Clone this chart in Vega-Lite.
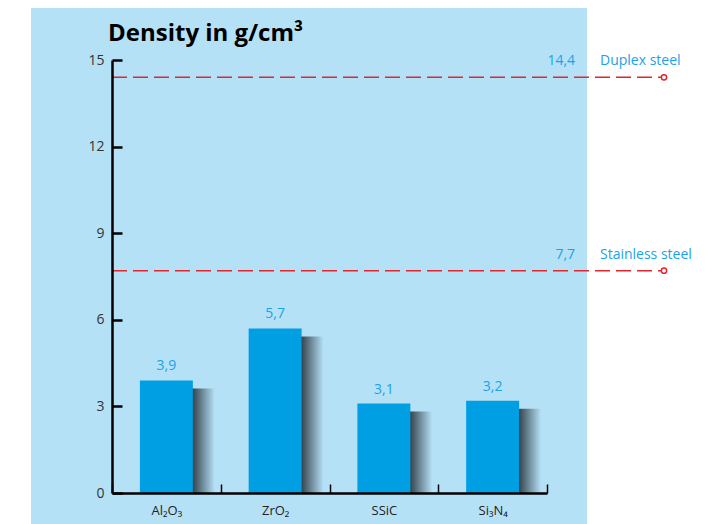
{
  "$schema": "https://vega.github.io/schema/vega-lite/v6.json",
  "width": 552,
  "height": 433,
  "autosize": {"type": "none"},
  "padding": {"left": 112, "top": 60, "right": 52, "bottom": 31},
  "background": "white",
  "title": {
    "text": "Density in g/cm³",
    "anchor": "start",
    "frame": "group",
    "font": "Open Sans",
    "fontSize": 24,
    "fontWeight": "bold",
    "color": "#000000",
    "baseline": "alphabetic",
    "dx": -4,
    "offset": -57
  },
  "datasets": {
    "materials": [
      {"material": "Al₂O₃", "density": 3.9},
      {"material": "ZrO₂", "density": 5.7},
      {"material": "SSiC", "density": 3.1},
      {"material": "Si₃N₄", "density": 3.2}
    ],
    "steels": [
      {"steel": "Duplex steel", "density": 14.4},
      {"steel": "Stainless steel", "density": 7.7}
    ]
  },
  "resolve": {"scale": {"x": "independent"}},
  "layer": [
    {
      "data": {"values": [{"panel": "background"}]},
      "mark": {"type": "rect", "color": "#b5e1f7", "clip": false},
      "encoding": {
        "x": {"datum": -0.1467, "type": "quantitative", "scale": {"domain": [0, 1]}, "axis": null},
        "x2": {"datum": 0.8605},
        "y": {"datum": 16.8, "type": "quantitative", "scale": {"domain": [0, 15], "nice": false}, "title": null},
        "y2": {"datum": -1.3}
      }
    },
    {
      "data": {"name": "materials"},
      "encoding": {
        "x": {
          "field": "material",
          "type": "nominal",
          "sort": null,
          "scale": {"range": [0, 435], "paddingInner": 0, "paddingOuter": 0},
          "axis": {
            "title": null,
            "labelAngle": 0,
            "tickBand": "extent",
            "tickSize": -9,
            "tickWidth": 1.5,
            "tickColor": "#000000",
            "domainColor": "#000000",
            "domainWidth": 2.5,
            "labelFont": "Open Sans",
            "labelFontSize": 13,
            "labelColor": "#222222",
            "labelPadding": 20,
            "zindex": 2
          }
        },
        "y": {
          "field": "density",
          "type": "quantitative",
          "scale": {"domain": [0, 15], "nice": false},
          "title": null,
          "axis": {
            "values": [0, 3, 6, 9, 12, 15],
            "grid": false,
            "tickSize": -10,
            "tickWidth": 2.5,
            "tickColor": "#000000",
            "domainColor": "#000000",
            "domainWidth": 2.5,
            "labelFont": "Open Sans",
            "labelFontSize": 14,
            "labelColor": "#333333",
            "labelPadding": 18,
            "zindex": 2
          }
        }
      },
      "layer": [
        {
          "mark": {
            "type": "bar",
            "clip": true,
            "width": {"band": 0.487},
            "xOffset": 22,
            "yOffset": 8,
            "color": {
              "gradient": "linear",
              "x1": 0, "x2": 1, "y1": 0, "y2": 0,
              "stops": [
                {"offset": 0, "color": "#2f3d47"},
                {"offset": 0.58, "color": "#34434d"},
                {"offset": 1, "color": "#b5e1f7"}
              ]
            }
          }
        },
        {"mark": {"type": "bar", "width": {"band": 0.487}, "color": "#009fe3"}},
        {
          "mark": {"type": "text", "baseline": "bottom", "dy": -7, "font": "Open Sans", "fontSize": 14, "color": "#1ba3e6"},
          "encoding": {"text": {"field": "density", "type": "quantitative", "format": ".1f"}}
        }
      ]
    },
    {
      "data": {"name": "steels"},
      "encoding": {
        "y": {"field": "density", "type": "quantitative", "scale": {"domain": [0, 15], "nice": false}, "title": null}
      },
      "layer": [
        {
          "mark": {"type": "rule", "color": "#e0262f", "strokeWidth": 1.5, "strokeDash": [15, 6], "clip": false},
          "encoding": {
            "x": {"datum": 0, "type": "quantitative", "scale": {"domain": [0, 1]}, "axis": null},
            "x2": {"datum": 1}
          }
        },
        {
          "mark": {"type": "point", "shape": "circle", "filled": true, "fill": "white", "stroke": "#e0262f", "strokeWidth": 1.5, "size": 28, "opacity": 1, "clip": false},
          "encoding": {
            "x": {"datum": 1, "type": "quantitative", "scale": {"domain": [0, 1]}, "axis": null}
          }
        },
        {
          "mark": {"type": "text", "align": "right", "baseline": "middle", "dy": -16, "font": "Open Sans", "fontSize": 14, "color": "#1ba3e6", "clip": false},
          "encoding": {
            "x": {"datum": 0.839, "type": "quantitative", "scale": {"domain": [0, 1]}, "axis": null},
            "text": {"field": "density", "type": "quantitative", "format": ".1f"}
          }
        },
        {
          "mark": {"type": "text", "align": "left", "baseline": "middle", "dy": -16, "font": "Open Sans", "fontSize": 14, "color": "#1ba3e6", "clip": false},
          "encoding": {
            "x": {"datum": 0.884, "type": "quantitative", "scale": {"domain": [0, 1]}, "axis": null},
            "text": {"field": "steel", "type": "nominal"}
          }
        }
      ]
    }
  ],
  "config": {
    "view": {"stroke": null},
    "locale": {"number": {"decimal": ",", "thousands": ".", "grouping": [3], "currency": ["", " €"]}}
  }
}
